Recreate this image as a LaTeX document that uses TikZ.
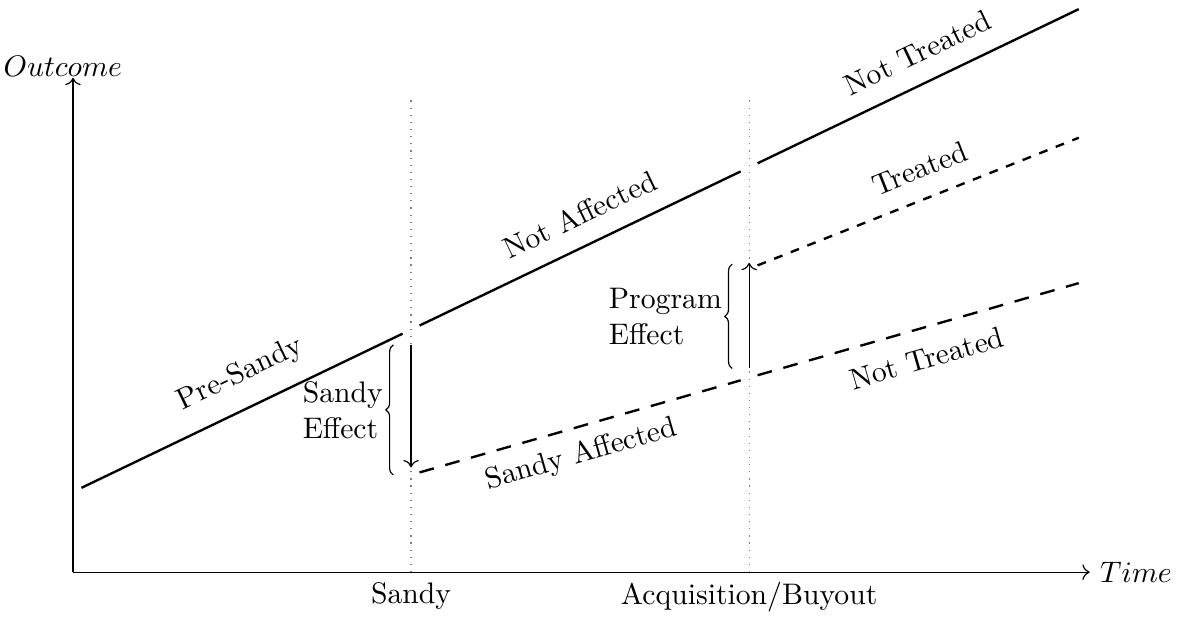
\documentclass[tikz,border=0pt]{standalone}
\usepackage{amsmath,amssymb}
\usepackage{tikz}
\usetikzlibrary{
	positioning,
	arrows.meta,
	decorations.pathreplacing
}

\begin{document}
\begin{tikzpicture}[
		trend/.style={thick},
		treated/.style={thick,dashed},
		affected/.style={thick,dash pattern=on 5pt off 4pt},
		marker/.style={gray,dotted},
		bracket/.style={decorate,decoration={brace,amplitude=2.5pt}},
		effect/.style={left,align=left},
		uplabel/.style={pos=0.54,above=3pt,sloped},
		downlabel/.style={below=3pt,sloped}
	]
	\useasboundingbox (-0.864,-0.52) rectangle (13.11,6.77);

	% axes
	\coordinate (o) at (0,0);
	\coordinate (xend) at (12.03,0);
	\coordinate (yend) at (0,5.85);
	\draw[->] (o) -- (xend) node[right] (time) {$Time$};
	\draw[->] (o) -- (yend);
	\node (outcome) at (-0.12,5.99) {$Outcome$};

	% events
	\coordinate (s0) at (4,0);
	\coordinate (s1) at (4,5.6);
	\coordinate (b0) at (8,0);
	\coordinate (b1) at (8,5.6);
	\draw[marker] (s0) -- (s1);
	\draw[marker] (b0) -- (b1);
	\node[below] (sandy) at (s0) {Sandy};
	\node[below] (buyout) at (b0) {Acquisition/Buyout};

	% trend lines
	\coordinate (p0) at (0.1,0.998);
	\coordinate (p1) at (3.9,2.822);
	\coordinate (n0) at (4.1,2.918);
	\coordinate (n1) at (7.9,4.742);
	\coordinate (u0) at (8.1,4.838);
	\coordinate (u1) at (11.9,6.662);
	\coordinate (a0) at (4.1,1.18);
	\coordinate (a1) at (7.9,2.27);
	\coordinate (c0) at (8.1,2.33);
	\coordinate (c1) at (11.9,3.42);
	\coordinate (t0) at (8.1,3.63);
	\coordinate (t1) at (11.9,5.14);

	\draw[trend] (p0) -- node[uplabel] (presandy) {Pre-Sandy} (p1);
	\draw[trend] (n0) -- node[uplabel] (notaffected) {Not Affected} (n1);
	\draw[trend] (u0) -- node[uplabel] (nottreatedup) {Not Treated} (u1);
	\draw[affected] (a0) -- node[pos=0.48,below=1pt,sloped] (sandyaffected) {Sandy Affected} (a1);
	\draw[affected] (c0) -- node[downlabel] (nottreatedlow) {Not Treated} (c1);
	\draw[treated] (t0) -- node[uplabel] (treatedlbl) {Treated} (t1);

	% effects
	\coordinate (e0) at (4,2.69);
	\coordinate (e1) at (4,1.24);
	\coordinate (g0) at (8,2.41);
	\coordinate (g1) at (8,3.66);
	\draw[->] (e0) -- (e1);
	\draw[->] (g0) -- (g1);

	\coordinate (sb0) at (3.79,1.15);
	\coordinate (sb1) at (3.79,2.69);
	\coordinate (pb0) at (7.80,2.41);
	\coordinate (pb1) at (7.80,3.645);
	\draw[bracket] (sb0) -- (sb1) node[midway,effect] (sandyeffect) {Sandy\\Effect};
	\draw[bracket] (pb0) -- (pb1) node[midway,effect] (programeffect) {Program\\Effect};
\end{tikzpicture}
\end{document}
